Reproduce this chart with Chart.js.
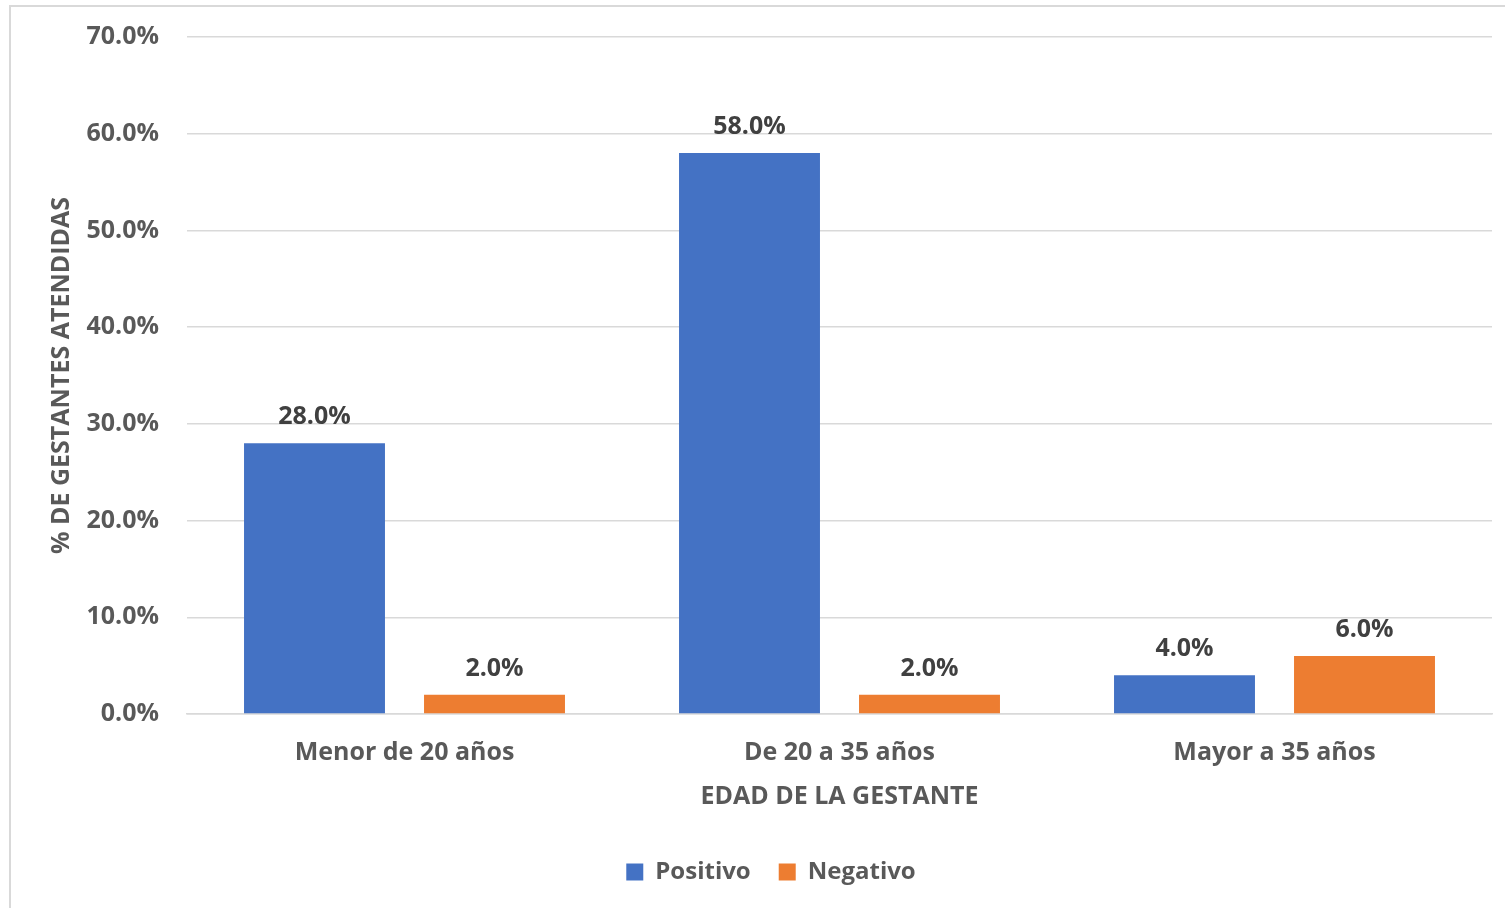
<!DOCTYPE html>
<html>
<head>
<meta charset="utf-8">
<script src="https://cdn.jsdelivr.net/npm/chart.js@4.4.0/dist/chart.umd.min.js"></script>
<style>
  html, body { margin: 0; padding: 0; background: #ffffff; overflow: hidden; }
  #frame { position: absolute; left: 9px; top: 5px; width: 1510px; height: 920px;
           border-left: 2px solid #d9d9d9; border-top: 2px solid #d9d9d9; box-sizing: border-box; }
  #wrap { position: absolute; left: 0; top: 0; width: 1505px; height: 908px; }
</style>
</head>
<body>
<div id="frame"></div>
<div id="wrap"><canvas id="c" width="1505" height="908"></canvas></div>
<script>
const categories = ['Menor de 20 años', 'De 20 a 35 años', 'Mayor a 35 años'];
const positivo = [28.0, 58.0, 4.0];
const negativo = [2.0, 2.0, 6.0];
const seriesNames = ['Positivo', 'Negativo'];
const yTitle = '% DE GESTANTES ATENDIDAS';
const xTitle = 'EDAD DE LA GESTANTE';

const FONT = "'Open Sans', 'DejaVu Sans', sans-serif";
const FS = 25;
const TICK_COLOR = '#595959';
const LABEL_COLOR = '#404040';

const dataLabels = {
  id: 'dataLabels',
  afterDatasetsDraw(chart) {
    const ctx = chart.ctx;
    ctx.save();
    ctx.font = `bold ${FS}px ${FONT}`;
    ctx.fillStyle = LABEL_COLOR;
    ctx.textAlign = 'center';
    ctx.textBaseline = 'alphabetic';
    chart.data.datasets.forEach((ds, di) => {
      const meta = chart.getDatasetMeta(di);
      meta.data.forEach((bar, i) => {
        ctx.fillText(ds.data[i].toFixed(1) + '%', bar.x, bar.y - 19);
      });
    });
    ctx.restore();
  }
};

new Chart(document.getElementById('c'), {
  type: 'bar',
  data: {
    labels: categories,
    datasets: [
      { label: seriesNames[0], data: positivo, backgroundColor: '#4472C4' },
      { label: seriesNames[1], data: negativo, backgroundColor: '#ED7D31' }
    ]
  },
  options: {
    responsive: false,
    animation: false,
    devicePixelRatio: 1,
    datasets: { bar: { categoryPercentage: 0.8276, barPercentage: 0.783 } },
    layout: { padding: { left: 50, top: 37, right: 13, bottom: 14 } },
    plugins: {
      tooltip: { enabled: false },
      legend: {
        position: 'bottom',
        labels: {
          boxWidth: 17, boxHeight: 17, padding: 28,
          color: TICK_COLOR,
          font: { family: FONT, size: 24, weight: 'bold' }
        }
      }
    },
    scales: {
      x: {
        grid: { display: false, drawTicks: false },
        border: { display: true, color: '#d9d9d9', width: 1.5 },
        ticks: { color: TICK_COLOR, padding: 24, font: { family: FONT, size: FS, weight: 'bold' } },
        title: { display: true, text: xTitle, color: TICK_COLOR, padding: { top: 0, bottom: 20 },
                 font: { family: FONT, size: FS, weight: 'bold' } },
        afterFit(scale) { scale.height = 118; }
      },
      y: {
        min: 0, max: 70,
        grid: { color: '#d9d9d9', lineWidth: 1.5, drawTicks: false },
        border: { display: false },
        ticks: { stepSize: 10, color: TICK_COLOR, padding: 28,
                 font: { family: FONT, size: FS, weight: 'bold' },
                 callback: v => v.toFixed(1) + '%' },
        title: { display: true, text: yTitle, color: TICK_COLOR, padding: { top: -3, bottom: 0 },
                 font: { family: FONT, size: FS, weight: 'bold' } },
        afterFit(scale) { scale.width = 137; scale.paddingTop = 0; scale.paddingBottom = 0; }
      }
    }
  },
  plugins: [dataLabels]
});
</script>
</body>
</html>
